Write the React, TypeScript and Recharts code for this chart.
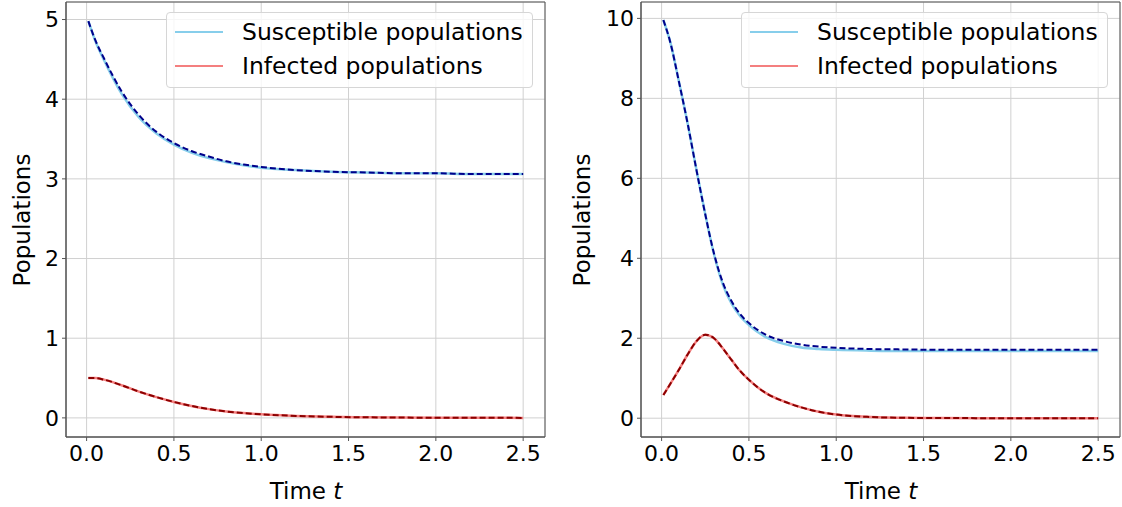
import { LineChart, Line, XAxis, YAxis, CartesianGrid, ReferenceArea } from 'recharts';

const FONT = '"DejaVu Sans", sans-serif';

// left panel (estimated from the figure)
const tLeft = [0.01, 0.05, 0.1, 0.2, 0.3, 0.4, 0.5, 0.6, 0.7, 0.8, 0.9, 1.0, 1.2, 1.4, 1.6, 1.8, 2.0, 2.2, 2.5];
const susLeft = [4.98, 4.73, 4.49, 4.07, 3.77, 3.57, 3.43, 3.33, 3.26, 3.21, 3.17, 3.14, 3.11, 3.09, 3.08, 3.07, 3.07, 3.06, 3.06];
const susLeftApprox = [4.98, 4.74, 4.51, 4.1, 3.8, 3.59, 3.45, 3.35, 3.28, 3.22, 3.18, 3.15, 3.11, 3.09, 3.08, 3.07, 3.07, 3.06, 3.06];
const infLeft = [0.5, 0.5, 0.48, 0.41, 0.33, 0.26, 0.2, 0.15, 0.11, 0.08, 0.06, 0.045, 0.025, 0.013, 0.007, 0.004, 0.002, 0.001, 0.0];
const infLeftApprox = [0.5, 0.5, 0.48, 0.41, 0.33, 0.26, 0.2, 0.15, 0.11, 0.08, 0.06, 0.045, 0.025, 0.013, 0.007, 0.004, 0.002, 0.001, 0.0];

// right panel
const tRight = [0.01, 0.05, 0.1, 0.15, 0.2, 0.25, 0.3, 0.35, 0.4, 0.45, 0.5, 0.6, 0.7, 0.8, 0.9, 1.0, 1.2, 1.4, 1.6, 1.8, 2.0, 2.2, 2.5];
const susRight = [9.96, 9.4, 8.4, 7.35, 6.2, 5.1, 4.1, 3.35, 2.87, 2.55, 2.33, 2.02, 1.86, 1.77, 1.73, 1.71, 1.69, 1.68, 1.68, 1.68, 1.68, 1.68, 1.68];
const susRightApprox = [9.96, 9.4, 8.4, 7.35, 6.2, 5.1, 4.12, 3.4, 2.93, 2.6, 2.38, 2.08, 1.93, 1.84, 1.79, 1.76, 1.73, 1.72, 1.71, 1.71, 1.71, 1.71, 1.71];
const infRight = [0.58, 0.86, 1.22, 1.6, 1.93, 2.09, 2.0, 1.75, 1.46, 1.18, 0.96, 0.62, 0.42, 0.27, 0.16, 0.09, 0.03, 0.01, 0.005, 0.002, 0.001, 0.0, 0.0];
const infRightApprox = [0.58, 0.86, 1.22, 1.6, 1.93, 2.09, 2.0, 1.75, 1.46, 1.18, 0.96, 0.62, 0.42, 0.27, 0.16, 0.09, 0.03, 0.01, 0.005, 0.002, 0.001, 0.0, 0.0];

const xTicks = [0, 0.5, 1.0, 1.5, 2.0, 2.5];
const yTicksLeft = [0, 1, 2, 3, 4, 5];
const yTicksRight = [0, 2, 4, 6, 8, 10];
const legendNames = ['Susceptible populations', 'Infected populations'];
const legendColors = ['#87ceeb', '#f47f7f'];

const buildRows = (t: number[], s: number[], sa: number[], i: number[], ia: number[]) =>
  t.map((v, k) => ({ t: v, s: s[k], sa: sa[k], i: i[k], ia: ia[k] }));

const xDomain: [number, number] = [-0.118, 2.625];

function Panel({ left, rows, yDomain, yTicks }: { left: number; rows: any[]; yDomain: [number, number]; yTicks: number[] }) {
  const tickStyle = { fill: '#000', fontSize: 22, fontFamily: FONT };
  return (
    <div style={{ position: 'absolute', left, top: 0 }}>
      <LineChart width={550} height={507} data={rows} margin={{ top: 2, right: 5, bottom: 0, left: 0 }}>
        <CartesianGrid stroke="#d0d0d0" strokeWidth={1} />
        <XAxis
          dataKey="t"
          type="number"
          domain={xDomain}
          ticks={xTicks}
          allowDataOverflow
          interval={0}
          height={70}
          tickSize={4}
          tickMargin={4}
          stroke="#555"
          tick={tickStyle}
          tickFormatter={(v: number) => v.toFixed(1)}
        />
        <YAxis
          type="number"
          domain={yDomain}
          ticks={yTicks}
          allowDataOverflow
          interval={0}
          width={66}
          tickSize={4}
          tickMargin={3}
          stroke="#555"
          tick={tickStyle}
        />
        <ReferenceArea x1={xDomain[0]} x2={xDomain[1]} y1={yDomain[0]} y2={yDomain[1]} fill="none" stroke="#555" strokeWidth={1} />
        <Line dataKey="s" type="monotone" stroke={legendColors[0]} strokeWidth={2.5} dot={false} isAnimationActive={false} />
        <Line dataKey="i" type="monotone" stroke={legendColors[1]} strokeWidth={2.5} dot={false} isAnimationActive={false} />
        <Line dataKey="sa" type="monotone" stroke="#00008b" strokeWidth={2} strokeDasharray="6 3" dot={false} isAnimationActive={false} />
        <Line dataKey="ia" type="monotone" stroke="#8b0000" strokeWidth={2} strokeDasharray="6 3" dot={false} isAnimationActive={false} />
      </LineChart>
    </div>
  );
}

function LegendBox({ left }: { left: number }) {
  return (
    <div
      style={{
        position: 'absolute',
        left,
        top: 12,
        width: 367,
        height: 76,
        border: '1px solid #d6d6d6',
        borderRadius: 4,
        background: 'rgba(255,255,255,0.8)',
        fontFamily: FONT,
        fontSize: 23.5,
        boxSizing: 'border-box',
      }}
    >
      {legendNames.map((name, k) => (
        <div key={name} style={{ position: 'absolute', left: 0, top: 19 + k * 34 - 15, height: 30, display: 'flex', alignItems: 'center', whiteSpace: 'nowrap' }}>
          <div style={{ width: 48, height: 2, background: legendColors[k], marginLeft: 8 }} />
          <span style={{ marginLeft: 19, color: '#000' }}>{name}</span>
        </div>
      ))}
    </div>
  );
}

function AxisLabels({ cx }: { cx: number }) {
  return (
    <div style={{ position: 'absolute', left: cx, top: 491, transform: 'translate(-50%, -50%)', fontFamily: FONT, fontSize: 23, whiteSpace: 'nowrap' }}>
      Time <i>t</i>
    </div>
  );
}

export default function App() {
  const rowsLeft = buildRows(tLeft, susLeft, susLeftApprox, infLeft, infLeftApprox);
  const rowsRight = buildRows(tRight, susRight, susRightApprox, infRight, infRightApprox);
  const yLabel = (x: number) => (
    <div style={{ position: 'absolute', left: x, top: 220, transform: 'translate(-50%, -50%) rotate(-90deg)', fontFamily: FONT, fontSize: 23, whiteSpace: 'nowrap' }}>
      Populations
    </div>
  );
  return (
    <div style={{ position: 'absolute', left: 0, top: 0, width: 1122, height: 507, background: '#fff', overflow: 'hidden' }}>
      <Panel left={0} rows={rowsLeft} yDomain={[-0.24, 5.22]} yTicks={yTicksLeft} />
      <Panel left={575} rows={rowsRight} yDomain={[-0.47, 10.41]} yTicks={yTicksRight} />
      <LegendBox left={166} />
      <LegendBox left={741} />
      {yLabel(22)}
      {yLabel(582)}
      <AxisLabels cx={306} />
      <AxisLabels cx={881} />
    </div>
  );
}
